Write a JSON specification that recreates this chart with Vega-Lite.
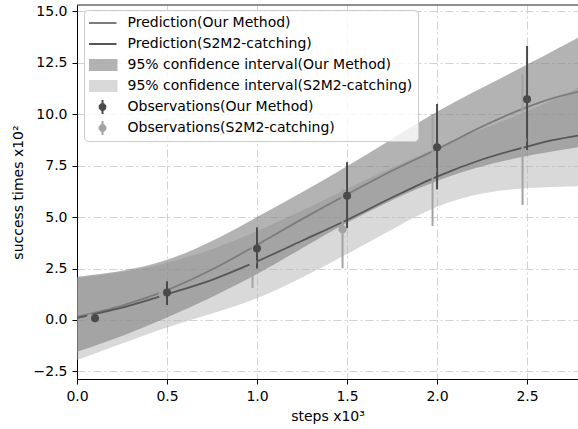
{
  "$schema": "https://vega.github.io/schema/vega-lite/v6.json",
  "width": 501,
  "height": 374,
  "autosize": {"type": "none"},
  "padding": {"left": 77, "top": 5, "right": 0, "bottom": 50},
  "background": "white",
  "config": {
    "font": "DejaVu Sans",
    "view": {"stroke": null},
    "axis": {
      "labelFont": "DejaVu Sans", "labelFontSize": 14, "labelColor": "#000",
      "titleFont": "DejaVu Sans", "titleFontSize": 14, "titleFontWeight": "normal", "titleColor": "#000",
      "domainColor": "#000", "domainWidth": 1, "tickColor": "#000", "tickSize": 5, "tickWidth": 1,
      "gridColor": "#d2d2d2", "gridDash": [8, 3, 2, 3], "gridWidth": 1, "labelPadding": 5
    }
  },
  "datasets": {
    "pred": [
      {"series": "Prediction(Our Method)", "x": 0, "y": 0.15},
      {"series": "Prediction(Our Method)", "x": 0.25, "y": 0.7},
      {"series": "Prediction(Our Method)", "x": 0.5, "y": 1.45},
      {"series": "Prediction(Our Method)", "x": 0.75, "y": 2.45},
      {"series": "Prediction(Our Method)", "x": 1.0, "y": 3.65},
      {"series": "Prediction(Our Method)", "x": 1.25, "y": 4.9},
      {"series": "Prediction(Our Method)", "x": 1.5, "y": 6.1},
      {"series": "Prediction(Our Method)", "x": 1.75, "y": 7.25},
      {"series": "Prediction(Our Method)", "x": 2.0, "y": 8.3},
      {"series": "Prediction(Our Method)", "x": 2.25, "y": 9.4},
      {"series": "Prediction(Our Method)", "x": 2.5, "y": 10.35},
      {"series": "Prediction(Our Method)", "x": 2.65, "y": 10.8},
      {"series": "Prediction(Our Method)", "x": 2.79, "y": 11.1},
      {"series": "Prediction(S2M2-catching)", "x": 0, "y": 0.1},
      {"series": "Prediction(S2M2-catching)", "x": 0.25, "y": 0.6},
      {"series": "Prediction(S2M2-catching)", "x": 0.5, "y": 1.25},
      {"series": "Prediction(S2M2-catching)", "x": 0.75, "y": 1.95},
      {"series": "Prediction(S2M2-catching)", "x": 1.0, "y": 2.85},
      {"series": "Prediction(S2M2-catching)", "x": 1.25, "y": 3.85},
      {"series": "Prediction(S2M2-catching)", "x": 1.5, "y": 4.86},
      {"series": "Prediction(S2M2-catching)", "x": 1.75, "y": 5.95},
      {"series": "Prediction(S2M2-catching)", "x": 2.0, "y": 6.97},
      {"series": "Prediction(S2M2-catching)", "x": 2.25, "y": 7.8},
      {"series": "Prediction(S2M2-catching)", "x": 2.5, "y": 8.43},
      {"series": "Prediction(S2M2-catching)", "x": 2.65, "y": 8.75},
      {"series": "Prediction(S2M2-catching)", "x": 2.79, "y": 8.97}
    ],
    "ciOur": [
      {"series": "95% confidence interval(Our Method)", "x": 0, "lo": -1.55, "hi": 2.1},
      {"series": "95% confidence interval(Our Method)", "x": 0.25, "lo": -0.8, "hi": 2.35},
      {"series": "95% confidence interval(Our Method)", "x": 0.5, "lo": 0.1, "hi": 2.85},
      {"series": "95% confidence interval(Our Method)", "x": 0.75, "lo": 1.1, "hi": 3.8},
      {"series": "95% confidence interval(Our Method)", "x": 1.0, "lo": 2.2, "hi": 5.0},
      {"series": "95% confidence interval(Our Method)", "x": 1.25, "lo": 3.5, "hi": 6.2},
      {"series": "95% confidence interval(Our Method)", "x": 1.5, "lo": 4.75, "hi": 7.45},
      {"series": "95% confidence interval(Our Method)", "x": 1.75, "lo": 5.85, "hi": 8.8},
      {"series": "95% confidence interval(Our Method)", "x": 2.0, "lo": 6.8, "hi": 10.15},
      {"series": "95% confidence interval(Our Method)", "x": 2.25, "lo": 7.5, "hi": 11.3},
      {"series": "95% confidence interval(Our Method)", "x": 2.5, "lo": 8.0, "hi": 12.4},
      {"series": "95% confidence interval(Our Method)", "x": 2.79, "lo": 8.4, "hi": 13.75}
    ],
    "ciS2M2": [
      {"series": "95% confidence interval(S2M2-catching)", "x": 0, "lo": -1.95, "hi": 2.05},
      {"series": "95% confidence interval(S2M2-catching)", "x": 0.25, "lo": -1.15, "hi": 2.3},
      {"series": "95% confidence interval(S2M2-catching)", "x": 0.5, "lo": -0.33, "hi": 2.75},
      {"series": "95% confidence interval(S2M2-catching)", "x": 0.75, "lo": 0.3, "hi": 3.4},
      {"series": "95% confidence interval(S2M2-catching)", "x": 1.0, "lo": 1.0, "hi": 4.3},
      {"series": "95% confidence interval(S2M2-catching)", "x": 1.25, "lo": 2.05, "hi": 5.3},
      {"series": "95% confidence interval(S2M2-catching)", "x": 1.5, "lo": 3.2, "hi": 6.4},
      {"series": "95% confidence interval(S2M2-catching)", "x": 1.75, "lo": 4.4, "hi": 7.4},
      {"series": "95% confidence interval(S2M2-catching)", "x": 2.0, "lo": 5.6, "hi": 8.4},
      {"series": "95% confidence interval(S2M2-catching)", "x": 2.25, "lo": 6.2, "hi": 9.3},
      {"series": "95% confidence interval(S2M2-catching)", "x": 2.5, "lo": 6.45, "hi": 10.1},
      {"series": "95% confidence interval(S2M2-catching)", "x": 2.79, "lo": 6.5, "hi": 11.3}
    ],
    "obs": [
      {"series": "Observations(S2M2-catching)", "x": 0.075, "y": 0.1, "lo": 0.02, "hi": 0.18},
      {"series": "Observations(S2M2-catching)", "x": 0.475, "y": 1.25, "lo": 0.65, "hi": 1.82},
      {"series": "Observations(S2M2-catching)", "x": 0.975, "y": 2.83, "lo": 1.56, "hi": 4.13},
      {"series": "Observations(S2M2-catching)", "x": 1.475, "y": 4.41, "lo": 2.51, "hi": 6.35},
      {"series": "Observations(S2M2-catching)", "x": 1.975, "y": 7.29, "lo": 4.57, "hi": 10.0},
      {"series": "Observations(S2M2-catching)", "x": 2.475, "y": 8.75, "lo": 5.59, "hi": 11.94},
      {"series": "Observations(Our Method)", "x": 0.1, "y": 0.08, "lo": 0.0, "hi": 0.16},
      {"series": "Observations(Our Method)", "x": 0.5, "y": 1.33, "lo": 0.73, "hi": 1.88},
      {"series": "Observations(Our Method)", "x": 1.0, "y": 3.47, "lo": 2.5, "hi": 4.5},
      {"series": "Observations(Our Method)", "x": 1.5, "y": 6.04, "lo": 4.46, "hi": 7.67},
      {"series": "Observations(Our Method)", "x": 2.0, "y": 8.4, "lo": 6.35, "hi": 10.5},
      {"series": "Observations(Our Method)", "x": 2.5, "y": 10.73, "lo": 8.26, "hi": 13.32}
    ]
  },
  "encoding": {
    "x": {
      "field": "x", "type": "quantitative",
      "scale": {"domain": [0, 2.783], "nice": false, "zero": false},
      "axis": {"values": [0, 0.5, 1, 1.5, 2, 2.5], "format": ".1f", "title": "steps x10³", "titlePadding": 6, "labelFlush": false, "labelOverlap": false}
    },
    "color": {
      "field": "series", "type": "nominal",
      "scale": {
        "domain": ["Prediction(Our Method)", "Prediction(S2M2-catching)", "95% confidence interval(Our Method)", "95% confidence interval(S2M2-catching)", "Observations(Our Method)", "Observations(S2M2-catching)"],
        "range": ["#7c7c7c", "#565656", "#808080", "#b3b3b3", "#4a4a4a", "#a3a3a3"]
      },
      "legend": {
        "title": null, "orient": "none", "legendX": 7, "legendY": 5, "direction": "vertical",
        "fillColor": "rgba(255,255,255,0.8)", "strokeColor": "#cccccc", "cornerRadius": 4, "padding": 5,
        "labelFont": "DejaVu Sans", "labelFontSize": 14, "labelColor": "#000", "labelLimit": 500,
        "symbolSize": 196, "symbolStrokeWidth": 2, "symbolOffset": 5.5, "labelOffset": 17, "rowPadding": 5, "clipHeight": 16,
        "encode": {
          "symbols": {
            "update": {
              "shape": {"signal": "indexof(datum.value, 'Prediction') === 0 ? 'M-2,0H2' : indexof(datum.value, '95%') === 0 ? 'M-2,-0.72H2V0.72H-2Z' : 'M0,-1V1M0.4,0.17L0.17,0.4L-0.17,0.4L-0.4,0.17L-0.4,-0.17L-0.17,-0.4L0.17,-0.4L0.4,-0.17Z'"},
              "stroke": {"signal": "indexof(datum.value, '95%') === 0 ? 'transparent' : scale('color', datum.value)"},
              "size": {"value": 196},
              "strokeWidth": {"value": 2},
              "opacity": {"signal": "datum.value === '95% confidence interval(Our Method)' ? 0.6 : datum.value === '95% confidence interval(S2M2-catching)' ? 0.5 : 1"}
            }
          }
        }
      }
    }
  },
  "layer": [
    {
      "data": {"name": "ciS2M2"},
      "mark": {"type": "area", "opacity": 0.5, "interpolate": "basis", "clip": true},
      "encoding": {
        "y": {"field": "lo", "type": "quantitative", "scale": {"domain": [-2.87, 15.31], "nice": false, "zero": false},
          "axis": {"values": [-2.5, 0, 2.5, 5, 7.5, 10, 12.5, 15], "format": ".1f", "title": "success times x10²", "titlePadding": 8}},
        "y2": {"field": "hi"}
      }
    },
    {
      "data": {"name": "ciOur"},
      "mark": {"type": "area", "opacity": 0.6, "interpolate": "basis", "clip": true},
      "encoding": {
        "y": {"field": "lo", "type": "quantitative", "scale": {"domain": [-2.87, 15.31], "nice": false, "zero": false}},
        "y2": {"field": "hi"}
      }
    },
    {
      "data": {"name": "pred"},
      "mark": {"type": "line", "strokeWidth": 1.8, "interpolate": "monotone", "clip": true},
      "encoding": {
        "y": {"field": "y", "type": "quantitative", "scale": {"domain": [-2.87, 15.31], "nice": false, "zero": false}}
      }
    },
    {
      "data": {"name": "obs"},
      "mark": {"type": "rule", "strokeWidth": 2, "clip": true},
      "encoding": {
        "y": {"field": "lo", "type": "quantitative", "scale": {"domain": [-2.87, 15.31], "nice": false, "zero": false}},
        "y2": {"field": "hi"}
      }
    },
    {
      "data": {"name": "obs"},
      "mark": {"type": "point", "filled": true, "shape": "circle", "size": 64, "opacity": 1, "clip": true},
      "encoding": {
        "y": {"field": "y", "type": "quantitative", "scale": {"domain": [-2.87, 15.31], "nice": false, "zero": false}}
      }
    },
    {
      "data": {"values": [{}]},
      "mark": {"type": "rule", "strokeWidth": 1.2},
      "encoding": {
        "x": null,
        "y": {"datum": 15.31, "type": "quantitative", "scale": {"domain": [-2.87, 15.31], "nice": false, "zero": false}},
        "color": {"value": "#222222"}
      }
    }
  ]
}
